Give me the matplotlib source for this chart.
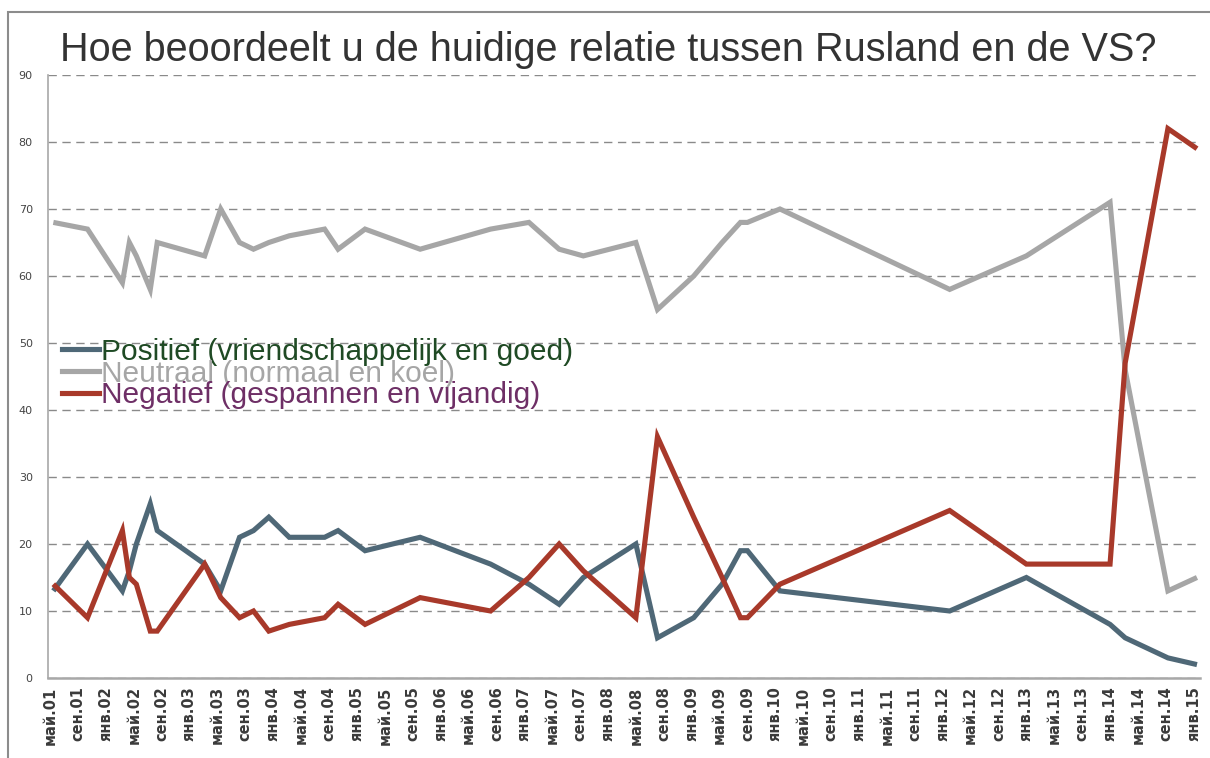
import matplotlib
matplotlib.use("Agg")
import matplotlib.pyplot as plt
from matplotlib.lines import Line2D
from matplotlib.patches import Rectangle

plt.rcParams['font.family'] = ['Liberation Sans', 'DejaVu Sans']

# ---- data -------------------------------------------------------------
survey_dates = ['2001-05-15', '2001-10-12', '2002-03-12', '2002-04-12', '2002-05-12',
                '2002-07-12', '2002-08-12', '2003-03-06', '2003-05-15', '2003-08-06',
                '2003-10-06', '2003-12-12', '2004-03-10', '2004-08-12', '2004-10-10',
                '2005-02-06', '2005-10-03', '2006-08-06', '2007-01-21', '2007-06-01',
                '2007-09-15', '2008-05-01', '2008-08-04', '2009-01-10', '2009-05-12',
                '2009-08-01', '2009-09-01', '2010-01-21', '2012-02-01', '2013-01-01',
                '2014-01-01', '2014-03-06', '2014-09-10', '2015-01-15']

positief = [13, 20, 13, 16, 20, 26, 22, 17, 13, 21, 22, 24, 21, 21, 22, 19, 21, 17, 14, 11,
            15, 20, 6, 9, 14, 19, 19, 13, 10, 15, 8, 6, 3, 2]
neutraal = [68, 67, 59, 65, 63, 58, 65, 63, 70, 65, 64, 65, 66, 67, 64, 67, 64, 67, 68, 64,
            63, 65, 55, 60, 65, 68, 68, 70, 58, 63, 71, 46, 13, 15]
negatief = [14, 9, 22, 15, 14, 7, 7, 17, 12, 9, 10, 7, 8, 9, 11, 8, 12, 10, 15, 20,
            16, 9, 36, 24, 15, 9, 9, 14, 25, 17, 17, 47, 82, 79]

series_labels = ['Positief (vriendschappelijk en goed)',
                 'Neutraal (normaal en koel)',
                 'Negatief (gespannen en vijandig)']

tick_labels = ['май.01', 'сен.01',
               'янв.02', 'май.02', 'сен.02', 'янв.03', 'май.03', 'сен.03',
               'янв.04', 'май.04', 'сен.04', 'янв.05', 'май.05', 'сен.05',
               'янв.06', 'май.06', 'сен.06', 'янв.07', 'май.07', 'сен.07',
               'янв.08', 'май.08', 'сен.08', 'янв.09', 'май.09', 'сен.09',
               'янв.10', 'май.10', 'сен.10', 'янв.11', 'май.11', 'сен.11',
               'янв.12', 'май.12', 'сен.12', 'янв.13', 'май.13', 'сен.13',
               'янв.14', 'май.14', 'сен.14', 'янв.15']

title = 'Hoe beoordeelt u de huidige relatie tussen Rusland en de VS?'


# months since 1 May 2001
def to_month(s):
    y, m, d = (int(p) for p in s.split('-'))
    return (y - 2001) * 12 + (m - 5) + (d - 1) / 30.0


xs = [to_month(s) for s in survey_dates]
tick_pos = [4 * i for i in range(len(tick_labels))]

# ---- figure -----------------------------------------------------------
W, H = 1210, 758
fig = plt.figure(figsize=(W / 100, H / 100), dpi=100)
fig.patch.set_facecolor('white')

# outer frame
fig.add_artist(Rectangle((8 / W, -0.05), 1.2, (1 - 12 / H) + 0.05,
                         transform=fig.transFigure, fill=False,
                         edgecolor='#8c8c8c', lw=1.5))

ax = fig.add_axes([48 / W, 1 - 678 / H, 1152 / W, 603 / H])

colors = ['#4f6877', '#a6a6a6', '#a8392a']
text_colors = ['#1f4a24', '#a6a6a6', '#6e2f66']

for vals, c in zip([positief, neutraal, negatief], colors):
    ax.plot(xs, vals, color=c, lw=3.7, solid_joinstyle='miter',
            solid_capstyle='butt')

ax.set_xlim(-0.3, 164.9)
ax.set_ylim(0, 90)
ax.set_yticks(range(0, 91, 10))
ax.set_xticks(tick_pos)
ax.set_xticklabels(tick_labels, rotation=90, fontsize=10.5, color='#3a3a3a',
                   family=['DejaVu Sans'], fontweight='bold')
for lab in ax.get_yticklabels():
    lab.set_fontsize(8)
    lab.set_color('#444444')
    lab.set_family(['DejaVu Sans'])
ax.tick_params(axis='both', length=0)
ax.tick_params(axis='y', pad=11)
ax.tick_params(axis='x', pad=6)

ax.yaxis.grid(True, linestyle=(0, (6, 4)), color='#8a8a8a', lw=1.0)
ax.set_axisbelow(True)
for side in ['top', 'right']:
    ax.spines[side].set_visible(False)
ax.spines['left'].set_color('#a8a8a8')
ax.spines['left'].set_linewidth(1.2)
ax.spines['bottom'].set_color('#a8a8a8')
ax.spines['bottom'].set_linewidth(1.8)

handles = [Line2D([0], [0], color=c, lw=3.7) for c in colors]
leg = ax.legend(handles, series_labels, loc='upper left',
                bbox_to_anchor=(0.012, 0.564), frameon=False, fontsize=21.5,
                handlelength=1.25, handletextpad=0.05, labelspacing=-0.21,
                borderpad=0, borderaxespad=0)
for t, c in zip(leg.get_texts(), text_colors):
    t.set_color(c)

fig.text(0.503, 1 - 61 / H, title, ha='center', va='baseline',
         fontsize=28.5, color='#333333')

fig.savefig('out.png', dpi=100, facecolor='white')
